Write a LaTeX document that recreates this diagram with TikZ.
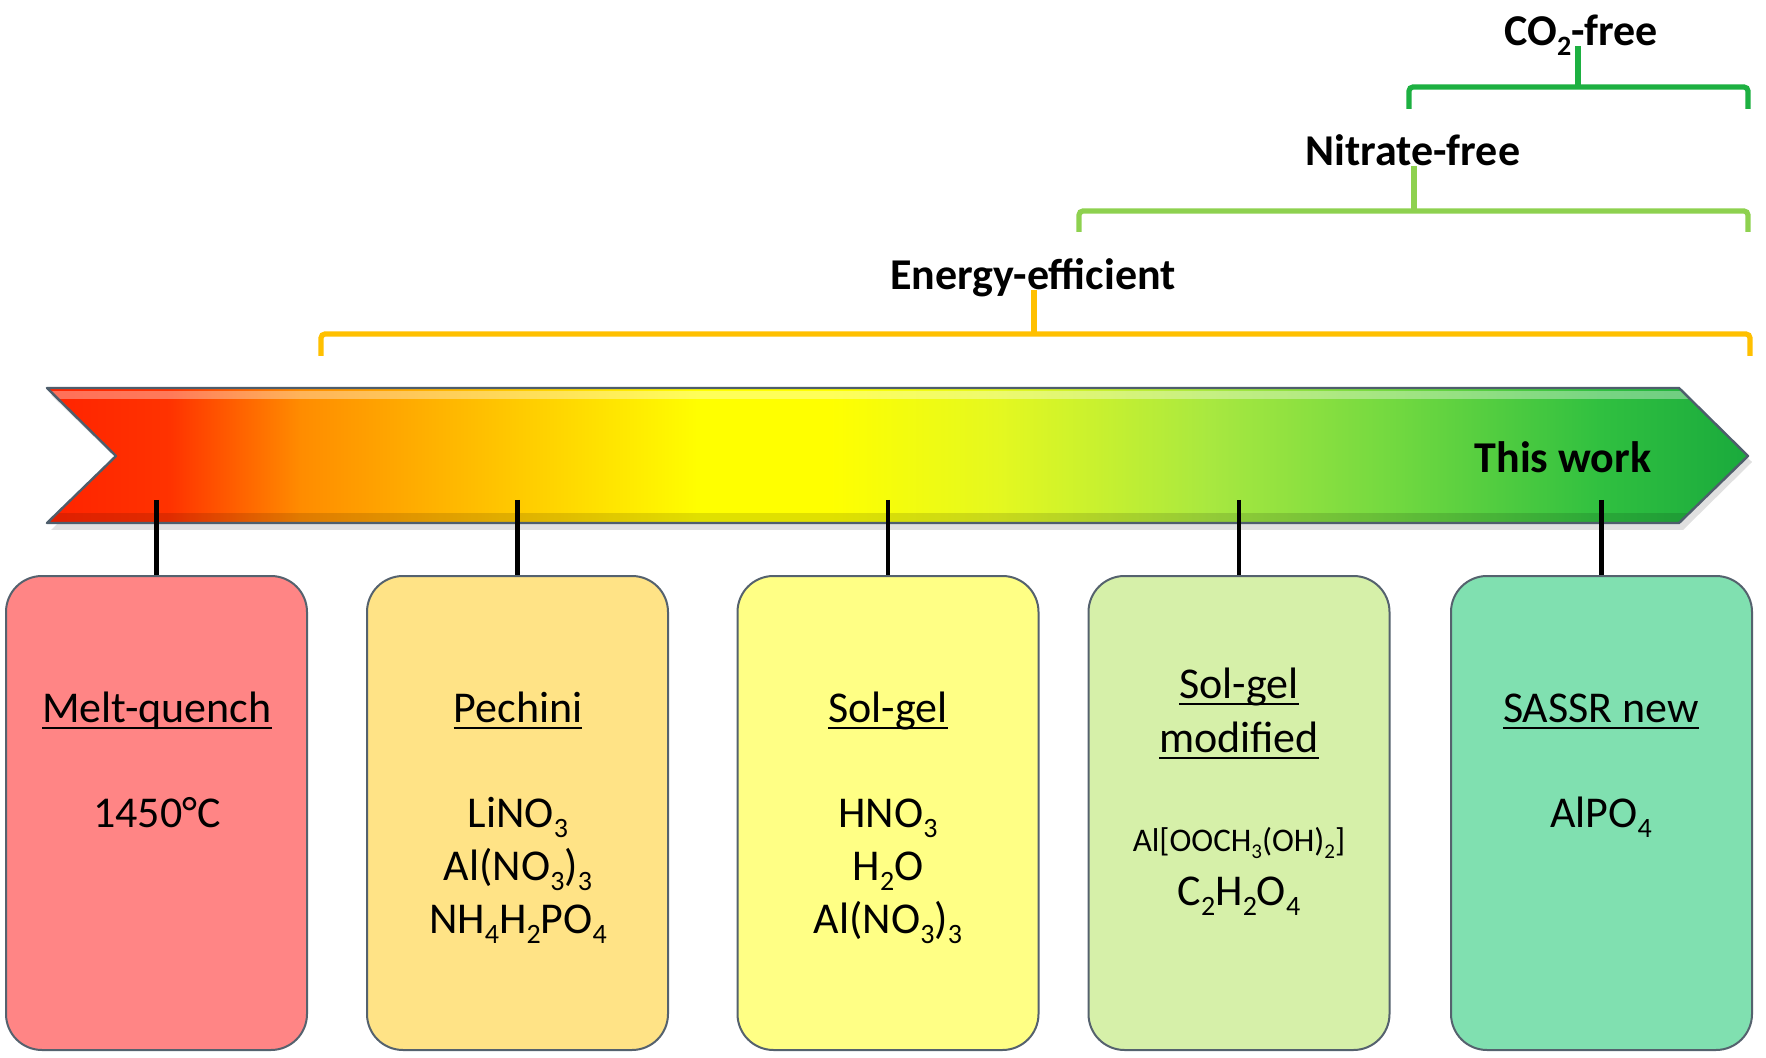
\documentclass[tikz,border=0pt]{standalone}
\usepackage{fontspec}
\setmainfont{Carlito}
\definecolor{cEnergy}{HTML}{FFC000}
\definecolor{cNitrate}{HTML}{8ED14F}
\definecolor{cCO}{HTML}{1DB041}
\definecolor{boxline}{HTML}{55626E}
\definecolor{arrline}{HTML}{4E5E6C}
\definecolor{fA}{HTML}{FF8585}
\definecolor{fB}{HTML}{FFE386}
\definecolor{fC}{HTML}{FFFF85}
\definecolor{fD}{HTML}{D6F0A9}
\definecolor{fE}{HTML}{80E0B0}
\definecolor{g0}{HTML}{FF2200}
\definecolor{g1}{HTML}{FF3300}
\definecolor{g2}{HTML}{FF8C00}
\definecolor{g3}{HTML}{FFC800}
\definecolor{g4}{HTML}{FFFF00}
\definecolor{g5}{HTML}{FFFF00}
\definecolor{g6}{HTML}{E4F820}
\definecolor{g7}{HTML}{A8E840}
\definecolor{g8}{HTML}{70D840}
\definecolor{g9}{HTML}{30C040}
\definecolor{g10}{HTML}{18A83C}
\newsavebox\ulbox
\newcommand\ulx[1]{\sbox\ulbox{#1}\rlap{\rule[-3.6pt]{\wd\ulbox}{1.1pt}}\usebox\ulbox}
\newcommand\sbs[1]{\raisebox{-5pt}{\fontsize{14}{14}\selectfont #1}}
\newcommand\sbsm[1]{\raisebox{-3.6pt}{\fontsize{10.5}{10.5}\selectfont #1}}
\begin{document}
\begin{tikzpicture}[x=0.5pt,y=-0.5pt,
  reg/.style={font=\fontsize{22}{26}\selectfont, anchor=base, inner sep=0pt},
  sml/.style={font=\fontsize{16.5}{20}\selectfont, anchor=base, inner sep=0pt},
  lbl/.style={font=\fontsize{22}{26}\selectfont\bfseries, anchor=base, inner sep=0pt},
  procbox/.style={draw=boxline, line width=1pt, rounded corners=18pt, minimum width=150.5pt, minimum height=237pt, inner sep=0pt},
  stem/.style={line width=2.2pt, black},
  brk/.style={line width=2.6pt, rounded corners=2pt},
]
\fill[white] (0,0) rectangle (1766,1058);
\useasboundingbox (0,0) rectangle (1766,1058);

% arrow shadow
\fill[black, opacity=0.12] (51,395) -- (1683,395) -- (1752,462) -- (1683,530) -- (51,530) -- (120,462) -- cycle;
% arrow body
\begin{scope}
\clip (47,388) -- (1679,388) -- (1748,456) -- (1679,523) -- (47,523) -- (116,456) -- cycle;
\foreach \xa/\xb/\ca/\cb in {40/171/g0/g1, 170/301/g1/g2, 300/511/g2/g3, 510/701/g3/g4, 700/831/g4/g5, 830/1001/g5/g6, 1000/1211/g6/g7, 1210/1401/g7/g8, 1400/1601/g8/g9, 1600/1760/g9/g10}
  \shade[left color=\ca, right color=\cb] (\xa,380) rectangle (\xb,530);
\fill[white, opacity=0.35] (40,391) rectangle (1760,399);
\fill[black, opacity=0.12] (40,513) rectangle (1760,523);
\end{scope}
\draw[arrline, line width=1.2pt, line join=round] (47,388) -- (1679,388) -- (1748,456) -- (1679,523) -- (47,523) -- (116,456) -- cycle;
\node[lbl] (tw) at (1563,473) {This work};

% boxes
\node[procbox, fill=fA] (b1) at (156.5,813) {};
\node[procbox, fill=fB] (b2) at (517.5,813) {};
\node[procbox, fill=fC] (b3) at (888,813) {};
\node[procbox, fill=fD] (b4) at (1239,813) {};
\node[procbox, fill=fE] (b5) at (1601.5,813) {};

% stems
\coordinate (s1) at (156.5,500);
\coordinate (s2) at (517.5,500);
\coordinate (s3) at (888,500);
\coordinate (s4) at (1239,500);
\coordinate (s5) at (1601.5,500);
\draw[stem] (s1) -- (b1.north);
\draw[stem] (s2) -- (b2.north);
\draw[stem] (s3) -- (b3.north);
\draw[stem] (s4) -- (b4.north);
\draw[stem] (s5) -- (b5.north);

% box texts
\node[reg] (t1a) at (157,722) {\ulx{Melt-quench}};
\node[reg] (t1b) at (157,827) {1450°C};

\node[reg] (t2a) at (518,722) {\ulx{Pechini}};
\node[reg] (t2b) at (518,827) {LiNO\sbs{3}};
\node[reg] (t2c) at (518,880) {Al(NO\sbs{3})\sbs{3}};
\node[reg] (t2d) at (518,933) {NH\sbs{4}H\sbs{2}PO\sbs{4}};

\node[reg] (t3a) at (888,722) {\ulx{Sol-gel}};
\node[reg] (t3b) at (888,827) {HNO\sbs{3}};
\node[reg] (t3c) at (888,880) {H\sbs{2}O};
\node[reg] (t3d) at (888,933) {Al(NO\sbs{3})\sbs{3}};

\node[reg] (t4a) at (1239,698) {\ulx{Sol-gel}};
\node[reg] (t4b) at (1239,752) {\ulx{modified}};
\node[sml] (t4c) at (1239,851) {Al[OOCH\sbsm{3}(OH)\sbsm{2}]};
\node[reg] (t4d) at (1239,905) {C\sbs{2}H\sbs{2}O\sbs{4}};

\node[reg] (t5a) at (1601,722) {\ulx{SASSR new}};
\node[reg] (t5b) at (1601,827) {AlPO\sbs{4}};

% brackets
\node[lbl] (eT) at (1033,290) {Energy-efficient};
\coordinate (eL) at (321,356);
\coordinate (eR) at (1750,356);
\coordinate (eM) at (1034,334);
\draw[brk, cEnergy] (eL) |- (eM) -| (eR);
\draw[brk, cEnergy] (eM) -- (eM |- eT.base);

\node[lbl] (nT) at (1413,166) {Nitrate-free};
\coordinate (nL) at (1079,232);
\coordinate (nR) at (1748,232);
\coordinate (nM) at (1414,211);
\draw[brk, cNitrate] (nL) |- (nM) -| (nR);
\draw[brk, cNitrate] (nM) -- (nM |- nT.base);

\node[lbl] (cT) at (1581,46) {CO\sbs{2}-free};
\coordinate (cL) at (1409,109);
\coordinate (cR) at (1748,109);
\coordinate (cM) at (1578,87);
\draw[brk, cCO] (cL) |- (cM) -| (cR);
\draw[brk, cCO] (cM) -- (cM |- cT.base);
\end{tikzpicture}
\end{document}
